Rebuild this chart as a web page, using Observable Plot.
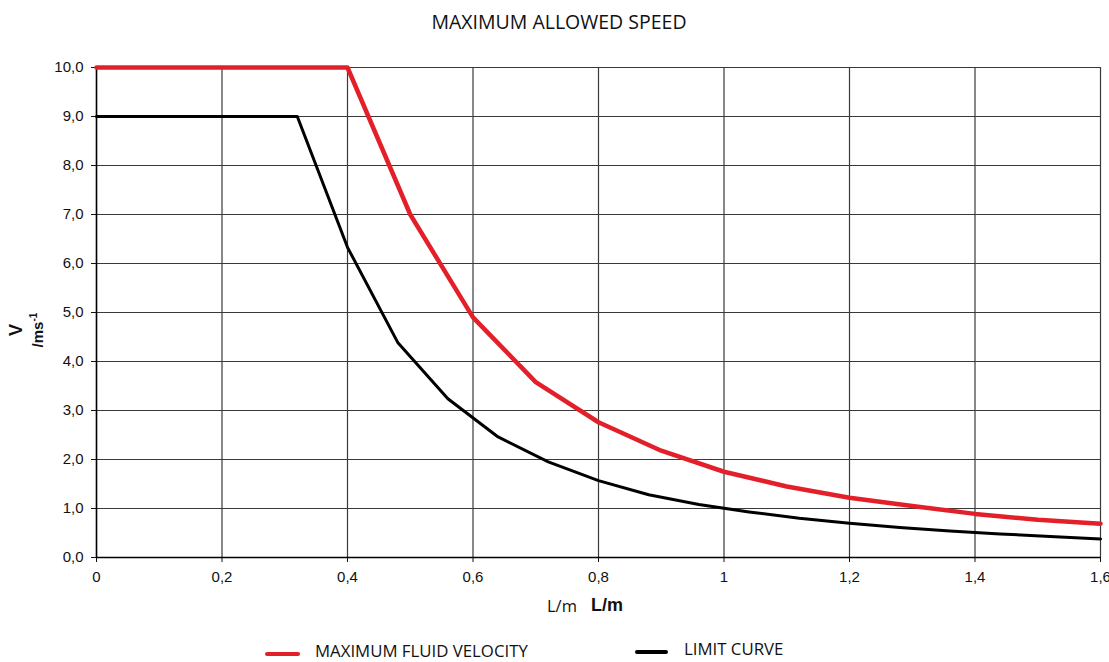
<!DOCTYPE html>
<html>
<head>
<meta charset="utf-8">
<script src="https://cdn.jsdelivr.net/npm/d3@7"></script>
<script src="https://cdn.jsdelivr.net/npm/@observablehq/plot@0.6"></script>
<style>
  html, body { margin: 0; padding: 0; background: #fff; }
  #wrap { position: relative; width: 1109px; height: 662px; overflow: hidden; }
  #chart { position: absolute; left: 0; top: 0; }
  .t { position: absolute; white-space: nowrap; color: #111; }
  #title { left: 0; width: 1118px; top: 8px; text-align: center; font: 19.5px "Open Sans", sans-serif; }
  #ylab { left: 27px; top: 330px; transform: translate(-50%, -50%) rotate(-90deg); font: bold 18px "Liberation Sans", Arial, sans-serif; text-align: center; line-height: 18px; }
  #xlab1 { left: 547px; top: 594px; font: 16.5px "Open Sans", sans-serif; }
  #xlab2 { left: 591px; top: 595px; font: bold 18px "Liberation Sans", Arial, sans-serif; }
  .sw { position: absolute; height: 4px; border-radius: 2px; }
  .lg { top: 639px; font: 16.8px "Open Sans", sans-serif; }
</style>
</head>
<body>
<div id="wrap">
  <div id="chart"></div>
  <div class="t" id="title">MAXIMUM ALLOWED SPEED</div>
  <div class="t" id="ylab">V<br><span style="font-size:15px">/ms<sup style="font-size:10px">-1</sup></span></div>
  <div class="t" id="xlab1">L/m</div>
  <div class="t" id="xlab2">L/m</div>
  <div class="sw" style="left:265px; top:652px; width:35px; background:#e3202a;"></div>
  <div class="t lg" style="left:315px;">MAXIMUM FLUID VELOCITY</div>
  <div class="sw" style="left:635px; top:650px; width:33px; background:#000;"></div>
  <div class="t lg" style="left:684px; top:637px;">LIMIT CURVE</div>
</div>
<script>
// Maximum fluid velocity (red)
const redL = [0, 0.4, 0.5, 0.6, 0.7, 0.8, 0.9, 1.0, 1.1, 1.2, 1.3, 1.4, 1.5, 1.6];
const redV = [10, 10, 7.0, 4.9, 3.58, 2.76, 2.18, 1.75, 1.45, 1.22, 1.05, 0.89, 0.77, 0.69];
// Limit curve (black)
const blackL = [0, 0.32, 0.4, 0.48, 0.56, 0.64, 0.72, 0.8, 0.88, 0.96, 1.04, 1.12, 1.2, 1.28, 1.36, 1.44, 1.52, 1.6];
const blackV = [9, 9, 6.33, 4.39, 3.24, 2.46, 1.95, 1.57, 1.28, 1.08, 0.93, 0.80, 0.70, 0.61, 0.54, 0.48, 0.43, 0.38];
const xTicks = [0, 0.2, 0.4, 0.6, 0.8, 1.0, 1.2, 1.4, 1.6];
const yTicks = [0, 1, 2, 3, 4, 5, 6, 7, 8, 9, 10];

const red = redL.map((l, i) => ({L: l, V: redV[i]}));
const black = blackL.map((l, i) => ({L: l, V: blackV[i]}));

const fmtX = d => String(+d.toFixed(1)).replace(".", ",");
const fmtY = d => d.toFixed(1).replace(".", ",");

const chart = Plot.plot({
  width: 1109,
  height: 662,
  marginTop: 67,
  marginBottom: 105,
  marginLeft: 96,
  marginRight: 9,
  style: {fontFamily: "'Liberation Sans', Arial, sans-serif", fontSize: "15px", color: "#111", background: "#fff"},
  x: {domain: [0, 1.6], ticks: xTicks, tickFormat: fmtX, tickSize: 5, tickPadding: 9, label: null},
  y: {domain: [0, 10], ticks: yTicks, tickFormat: fmtY, tickSize: 5, tickPadding: 8, label: null},
  marks: [
    Plot.gridX(xTicks, {stroke: "#3a3a3a", strokeOpacity: 1, strokeWidth: 1.2}),
    Plot.gridY(yTicks, {stroke: "#3a3a3a", strokeOpacity: 1, strokeWidth: 1.2}),
    Plot.ruleX([0], {stroke: "#000", strokeWidth: 1.5}),
    Plot.ruleY([0], {stroke: "#000", strokeWidth: 1.5}),
    Plot.lineY(black, {x: "L", y: "V", stroke: "#000", strokeWidth: 3}),
    Plot.lineY(red, {x: "L", y: "V", stroke: "#e3202a", strokeWidth: 4.5})
  ]
});
document.getElementById("chart").appendChild(chart);
</script>
</body>
</html>
